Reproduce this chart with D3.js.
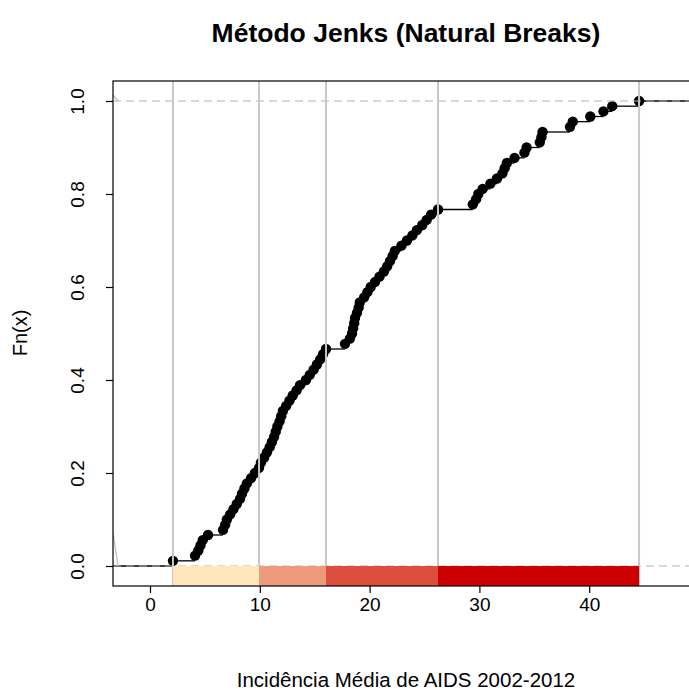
<!DOCTYPE html>
<html>
<head>
<meta charset="utf-8">
<script src="https://cdn.jsdelivr.net/npm/d3@7"></script>
<style>
  html, body { margin: 0; padding: 0; background: #fff; }
  svg { display: block; font-family: "Liberation Sans", Arial, Helvetica, sans-serif; }
</style>
</head>
<body>
<svg id="chart" width="689" height="691"></svg>
<script>
// ---- data ----
const values = [
  2.09, 4.10, 4.40, 4.60, 4.80, 5.28, 6.65, 6.85, 7.00, 7.30,
  7.60, 7.90, 8.20, 8.38, 8.60, 8.83, 9.20, 9.56, 9.93,
  10.10, 10.40, 10.65, 10.90, 11.10, 11.30, 11.45, 11.60, 11.80, 11.95,
  12.10, 12.40, 12.70, 13.00, 13.35, 13.66, 14.20, 14.55, 14.90, 15.20,
  15.50, 15.76, 16.03,
  17.76, 18.20, 18.40, 18.50, 18.60, 18.67, 18.85, 19.00, 19.10, 19.50,
  19.80, 20.10, 20.50, 20.90, 21.30, 21.60, 21.85, 22.10, 22.30, 22.90,
  23.40, 23.90, 24.30, 24.80, 25.20, 25.60, 26.23,
  29.40, 29.70, 29.90, 30.30, 31.00, 31.60, 32.10, 32.30, 32.50, 33.20,
  34.10, 34.30, 35.50, 35.65, 35.75, 38.25, 38.50, 40.10, 41.30, 42.10, 44.54
];
const breaks = [2.09, 9.93, 16.03, 26.23, 44.54];
const classColors = ["#fde7bb", "#ee9a7c", "#dc4e3e", "#cc0000"];
const xTicks = [0, 10, 20, 30, 40];
const yTicks = [0, 0.2, 0.4, 0.6, 0.8, 1.0];
const xDomain = [-3.37, 50.0];
const yDomain = [-0.043, 1.043];
// small grey strokes at the left edge of the original plot
const edgeStrokes = [
  [[-3.37, 1.013], [-2.91, 1.0]],
  [[-3.37, 0.072], [-2.91, 0.0]]
];
const titleText = "Método Jenks (Natural Breaks)";
const xLabel = "Incidência Média de AIDS 2002-2012";
const yLabel = "Fn(x)";

// ---- layout ----
const W = 689, H = 691;
const box = { left: 113, right: 699, top: 81, bottom: 586 };

const svg = d3.select("#chart");
const x = d3.scaleLinear().domain(xDomain).range([box.left, box.right]);
const y = d3.scaleLinear().domain(yDomain).range([box.bottom, box.top]);

svg.append("defs").append("clipPath").attr("id", "plotclip")
  .append("rect")
  .attr("x", box.left).attr("y", box.top)
  .attr("width", box.right - box.left).attr("height", box.bottom - box.top);

const plot = svg.append("g").attr("clip-path", "url(#plotclip)");

const n = values.length;
const sorted = values.slice().sort((a, b) => a - b);

// ECDF horizontal segments
const segs = [];
segs.push({ x0: xDomain[0], x1: sorted[0], f: 0 });
for (let i = 0; i < n; i++) {
  segs.push({ x0: sorted[i], x1: i + 1 < n ? sorted[i + 1] : xDomain[1], f: (i + 1) / n });
}
plot.append("g").selectAll("line").data(segs).join("line")
  .attr("x1", d => x(d.x0)).attr("x2", d => x(d.x1))
  .attr("y1", d => y(d.f)).attr("y2", d => y(d.f))
  .attr("stroke", "#000").attr("stroke-width", 1.3);

// ECDF points
plot.append("g").selectAll("circle").data(sorted).join("circle")
  .attr("cx", d => x(d)).attr("cy", (d, i) => y((i + 1) / n))
  .attr("r", 5.2).attr("fill", "#000");

// dashed 0/1 lines
plot.append("g").selectAll("line").data([0, 1]).join("line")
  .attr("x1", box.left).attr("x2", box.right)
  .attr("y1", d => y(d)).attr("y2", d => y(d))
  .attr("stroke", "#b3b3b3").attr("stroke-width", 1.2)
  .attr("stroke-dasharray", "8,5");

// grey edge strokes
plot.append("g").selectAll("line").data(edgeStrokes).join("line")
  .attr("x1", d => x(d[0][0])).attr("y1", d => y(d[0][1]))
  .attr("x2", d => x(d[1][0])).attr("y2", d => y(d[1][1]))
  .attr("stroke", "#bebebe").attr("stroke-width", 1.3);

// break verticals
plot.append("g").selectAll("line").data(breaks).join("line")
  .attr("x1", d => x(d)).attr("x2", d => x(d))
  .attr("y1", box.top).attr("y2", box.bottom)
  .attr("stroke", "#c8c8c8").attr("stroke-width", 2);

// class colour bar
const classes = classColors.map((c, i) => ({ a: breaks[i], b: breaks[i + 1], c }));
plot.append("g").selectAll("rect").data(classes).join("rect")
  .attr("x", d => x(d.a)).attr("width", d => x(d.b) - x(d.a))
  .attr("y", y(0)).attr("height", y(yDomain[0]) - y(0))
  .attr("fill", d => d.c);

// box
svg.append("rect")
  .attr("x", box.left).attr("y", box.top)
  .attr("width", box.right - box.left).attr("height", box.bottom - box.top)
  .attr("fill", "none").attr("stroke", "#000").attr("stroke-width", 1.2);

// axes
const xAxis = svg.append("g").attr("transform", `translate(0,${box.bottom})`)
  .call(d3.axisBottom(x).tickValues(xTicks).tickSize(7).tickFormat(d3.format("d")));
xAxis.select(".domain").remove();
xAxis.selectAll("line").attr("stroke", "#000").attr("stroke-width", 1.2);
xAxis.selectAll("text").attr("font-size", 19).attr("fill", "#000").attr("dy", null).attr("y", 25);

const yAxis = svg.append("g").attr("transform", `translate(${box.left},0)`)
  .call(d3.axisLeft(y).tickValues(yTicks).tickSize(7).tickFormat(d3.format(".1f")));
yAxis.select(".domain").remove();
yAxis.selectAll("line").attr("stroke", "#000").attr("stroke-width", 1.2);
yAxis.selectAll("text")
  .attr("font-size", 19).attr("fill", "#000")
  .attr("x", null).attr("dy", null)
  .attr("text-anchor", "middle")
  .attr("transform", "translate(-29,0) rotate(-90)");

// titles
svg.append("text").attr("x", 406).attr("y", 42)
  .attr("text-anchor", "middle").attr("font-size", 26.5).attr("font-weight", "bold")
  .text(titleText);
svg.append("text").attr("x", 406).attr("y", 687)
  .attr("text-anchor", "middle").attr("font-size", 20.5)
  .text(xLabel);
svg.append("text").attr("transform", "translate(27,333) rotate(-90)")
  .attr("text-anchor", "middle").attr("font-size", 20)
  .text(yLabel);
</script>
</body>
</html>
